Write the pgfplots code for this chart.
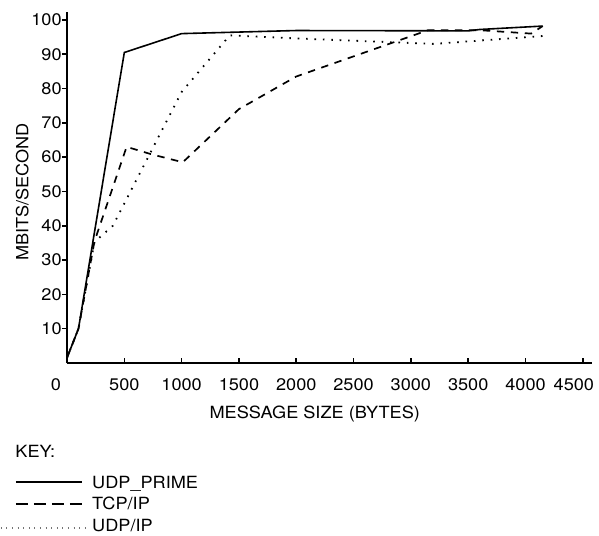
\documentclass[border=0pt]{standalone}
\usepackage{pgfplots}
\pgfplotsset{compat=1.18}
\usepackage{fontspec}
\setmainfont{TeX Gyre Heros}[FakeStretch=1.08]
\begin{document}
\fontsize{8.4pt}{10pt}\selectfont
\begin{tikzpicture}
\useasboundingbox (-33.5pt,-86pt) rectangle (266pt,181.5pt);
\begin{axis}[
  at={(0pt,0pt)}, anchor=south west,
  scale only axis, width=262.5pt, height=175.5pt,
  xmin=0, xmax=4580, ymin=0, ymax=102.3,
  axis lines=left,
  axis line style={-, line width=1pt},
  tick align=inside,
  major tick length=2.5pt,
  tick style={black, line width=0.8pt},
  ytick style={xshift=-2.5pt},
  xtick={0,500,1000,1500,2000,2500,3000,3500,4000,4500},
  xticklabels={\hspace*{-11pt}0,500,1000,1500,2000,2500,3000,3500,4000,\hspace*{-9pt}4500},
  ytick={10,20,30,40,50,60,70,80,90,100},
  /pgf/number format/assume math mode=true,
  xticklabel style={anchor=north, inner sep=0pt, yshift=-7.5pt},
  yticklabel style={anchor=east, inner sep=0pt, xshift=-2.5pt},
  xlabel={MESSAGE SIZE (BYTES)},
  ylabel={MBITS/SECOND},
  xlabel style={at={([yshift=-27.65pt]axis description cs:0.472,0)}, anchor=base},
  ylabel style={at={([xshift=-19.35pt]axis description cs:0,0.487)}, anchor=base},
  legend style={at={(axis description cs:0,0)}, anchor=north west, xshift=-26pt, yshift=-54pt,
    draw=none, fill=none, inner sep=0pt, outer sep=0pt, row sep=0pt, column sep=4.5pt,
    nodes={inner sep=0pt, text height=8.5pt, text depth=2.4pt},
    cells={anchor=base west}},
]
% UDP_PRIME
\addplot[black, line width=0.8pt, forget plot] coordinates {
 (0,1.5) (100,10) (500,90.5) (1000,96) (2000,96.9) (3500,96.8) (3600,97.2) (4150,98.2)
};
% TCP/IP
\addplot[black, line width=0.85pt, dash pattern=on 3.7pt off 3.3pt, forget plot] coordinates {
 (0,1.5) (100,10) (240,35.5) (520,63) (740,60.8) (1010,58.5) (1500,74) (2000,83.5) (3150,97) (3600,97) (4050,96) (4150,98.2)
};
% UDP/IP
\addplot[black, line width=0.9pt, dash pattern=on 0.8pt off 3.4pt, forget plot] coordinates {
 (0,1.5) (100,10) (240,35.3) (400,40) (1000,79) (1420,95.5) (2000,94.6) (3200,93) (4150,95.3)
};
\addlegendimage{legend image code/.code={\path (0pt,0pt) (33.3pt,0pt); \draw[black,line width=0.8pt] (0pt,3pt)--(33.3pt,3pt);}}
\addlegendentry{UDP\_PRIME}
\addlegendimage{legend image code/.code={\path (0pt,0pt) (33.3pt,0pt); \draw[black,line width=0.8pt,dash pattern=on 6pt off 3pt] (0pt,3pt)--(33.3pt,3pt);}}
\addlegendentry{TCP/IP}
\addlegendimage{legend image code/.code={\path (0pt,0pt) (33.3pt,0pt); \draw[overlay,black!55,line width=0.6pt,dash pattern=on 0.5pt off 2.3pt] (-7.5pt,1.85pt)--(35.8pt,1.85pt);}}
\addlegendentry{UDP/IP}
\end{axis}
\node[anchor=base west, inner sep=0pt] at (-26pt,-47pt) {KEY:};
\end{tikzpicture}
\end{document}
